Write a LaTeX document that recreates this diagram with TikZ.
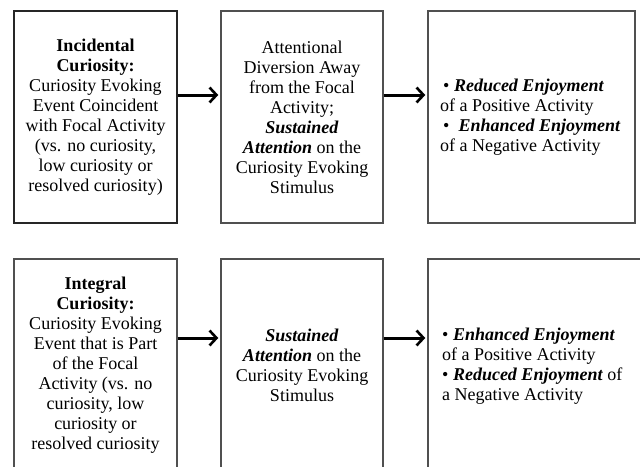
\documentclass[tikz,border=0pt]{standalone}
\usepackage{fontspec}
\setmainfont{Liberation Serif}
\usetikzlibrary{arrows.meta}
\definecolor{edge}{HTML}{505050}
\tikzset{
  box/.style={draw=edge, line width=1.4pt, rectangle, minimum height=212pt, inner sep=0pt,
    font=\fontsize{18}{20}\selectfont, align=center, text=black},
  plainbox/.style={draw=edge, line width=1.4pt, rectangle, minimum height=212pt, inner sep=0pt},
  lefttext/.style={anchor=west, align=left, inner sep=0pt, font=\fontsize{18}{20}\selectfont},
  arr/.style={line width=3pt, -{Straight Barb[length=7pt,width=15pt,line width=2.6pt]}, shorten >=2pt}
}
\newcommand{\bi}[1]{\textbf{\textit{#1}}}
\begin{document}
\begin{tikzpicture}[x=1pt,y=-1pt]
\useasboundingbox (0,0) rectangle (640,466);
\clip (0,0) rectangle (640,466);
\fill[white] (0,0) rectangle (640,466);
% top row
\node[box, draw=black!85, line width=2pt, minimum width=163pt] (a1) at (95.5,117)
  {\textbf{Incidental}\\\textbf{Curiosity:}\\Curiosity Evoking\\Event Coincident\\with Focal Activity\\(vs. no curiosity,\\low curiosity or\\resolved curiosity)};
\node[box, minimum width=162pt] (a2) at (302,117)
  {Attentional\\Diversion Away\\from the Focal\\Activity;\\\bi{Sustained}\\\bi{Attention} on the\\Curiosity Evoking\\Stimulus};
\node[plainbox, minimum width=207pt] (a3) at (531.5,117) {};
\node[lefttext] (a3t) at (440,117)
  {\,• \bi{Reduced Enjoyment}\\of a Positive Activity\\\,•\ \ \bi{Enhanced Enjoyment}\\of a Negative Activity};
% bottom row
\node[box, minimum width=163pt] (b1) at (95.5,365)
  {\textbf{Integral}\\\textbf{Curiosity:}\\Curiosity Evoking\\Event that is Part\\of the Focal\\Activity (vs. no\\curiosity, low\\curiosity or\\resolved curiosity};
\node[box, minimum width=162pt] (b2) at (302,365)
  {\bi{Sustained}\\\bi{Attention} on the\\Curiosity Evoking\\Stimulus};
\node[plainbox, minimum width=232pt] (b3) at (544,365) {};
\node[lefttext] (b3t) at (442,366)
  {• \bi{Enhanced Enjoyment}\\of a Positive Activity\\• \bi{Reduced Enjoyment} of\\a Negative Activity};
% arrows
\draw[arr] (a1.east |- 0,95) -- (a2.west |- 0,95);
\draw[arr] (a2.east |- 0,95) -- (a3.west |- 0,95);
\draw[arr] (b1.east |- 0,338) -- (b2.west |- 0,338);
\draw[arr] (b2.east |- 0,338) -- (b3.west |- 0,338);
\end{tikzpicture}
\end{document}
